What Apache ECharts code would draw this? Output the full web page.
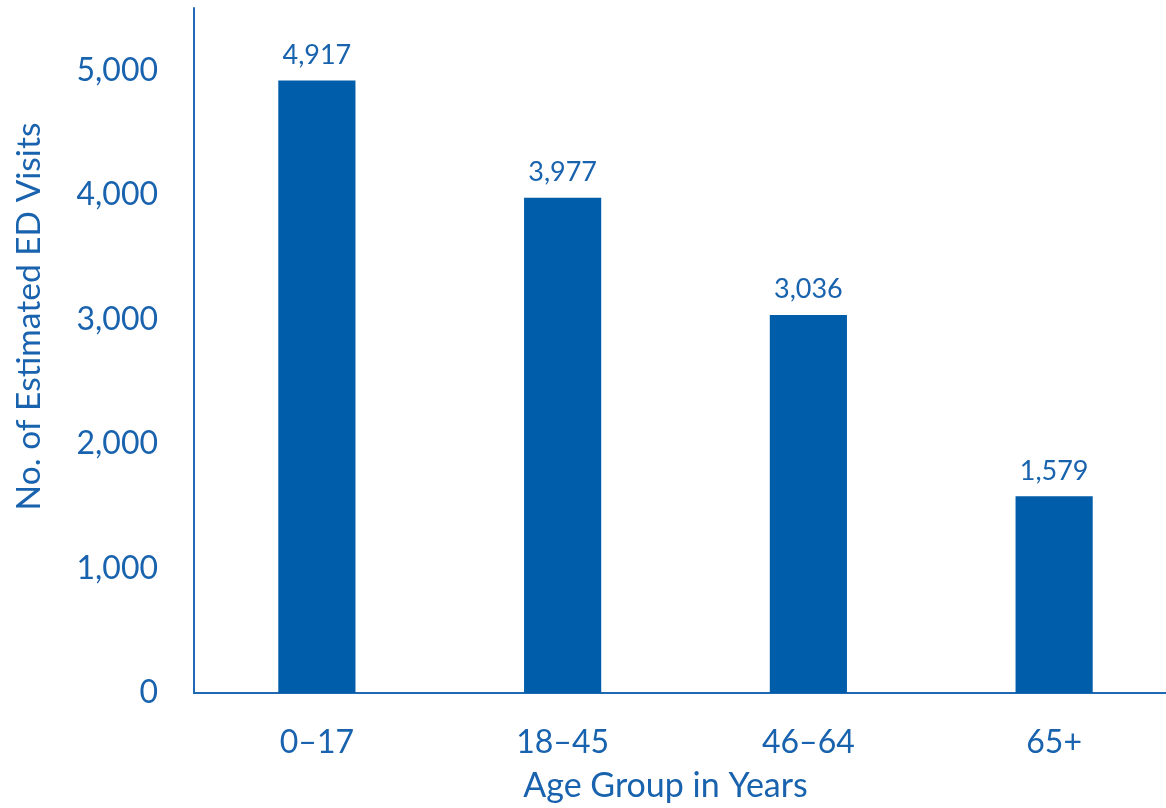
<!DOCTYPE html>
<html><head><meta charset="utf-8">
<script src="https://cdn.jsdelivr.net/npm/echarts@6/dist/echarts.min.js"></script>
<style>html,body{margin:0;padding:0;background:#fff;overflow:hidden}#c{width:1177px;height:808px}</style>
</head><body><div id="c"></div>
<script>
const categories = ['0\u201317', '18\u201345', '46\u201364', '65+'];
const visits = [4917, 3977, 3036, 1579];
const yTicks = [0, 1000, 2000, 3000, 4000, 5000];

const txt = '#1862AE';
const bar = '#005DAA';
const font = 'Lato';
const chart = echarts.init(document.getElementById('c'));
chart.setOption({
  animation: false,
  grid: { left: 194, right: 0, top: 8, bottom: 112 },
  xAxis: {
    type: 'category', data: categories,
    axisLine: { lineStyle: { color: '#1F68B4', width: 2 } },
    axisTick: { show: false },
    axisLabel: { color: txt, fontSize: 32, fontFamily: font, margin: 34 },
    name: 'Age Group in Years', nameLocation: 'middle', nameGap: 76,
    nameTextStyle: { color: txt, fontSize: 34, fontFamily: font, padding: [0, 40, 0, 0] }
  },
  yAxis: {
    type: 'value', min: 0, max: 5500, interval: 1000,
    axisLine: { show: true, lineStyle: { color: '#1F68B4', width: 2 } },
    axisTick: { show: false },
    splitLine: { show: false },
    axisLabel: { color: txt, fontSize: 32, fontFamily: font, margin: 36, showMaxLabel: false,
      formatter: v => yTicks.includes(v) ? v.toLocaleString('en-US') : '' },
    name: 'No. of Estimated ED Visits', nameLocation: 'middle', nameGap: 148,
    nameTextStyle: { color: txt, fontSize: 33.5, fontFamily: font, padding: [0, 0, 0, 68] }
  },
  series: [{
    type: 'bar', data: visits, barWidth: '31.4%',
    itemStyle: { color: bar },
    label: { show: true, position: 'top', distance: 12, color: txt, fontSize: 27, fontFamily: font,
      formatter: p => p.value.toLocaleString('en-US') }
  }]
});
</script></body></html>
